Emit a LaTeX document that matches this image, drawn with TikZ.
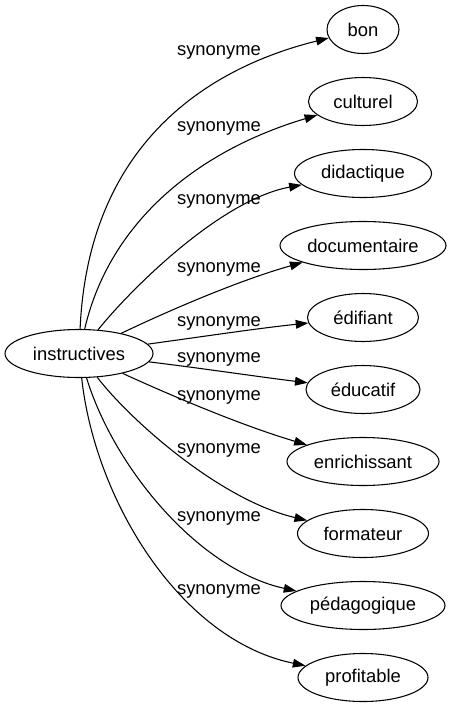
\documentclass[tikz,border=0pt]{standalone}
\usepackage{fontspec}
\setmainfont{Liberation Sans}
\usetikzlibrary{shapes.geometric,arrows.meta}
\tikzset{
  nd/.style={draw, ellipse, line width=0.8pt, minimum height=36pt, inner sep=0pt, font=\fontsize{13.8}{16}\selectfont},
  lbl/.style={inner sep=0pt, font=\fontsize{13.8}{16}\selectfont},
  edge/.style={line width=0.8pt, -{Triangle[length=9.5pt,width=6.5pt]}}
}
\begin{document}
\begin{tikzpicture}[x=0.75pt,y=-0.75pt]
\useasboundingbox (0,0) rectangle (453,707);
\node[nd, minimum width=111pt] (src) at (79,353.5) {instructives};
\node[nd, minimum width=54pt] (t1) at (363,29.5) {bon};
\node[nd, minimum width=81.75pt] (t2) at (363,101.5) {culturel};
\node[nd, minimum width=102.75pt] (t3) at (363,173.5) {didactique};
\node[nd, minimum width=124.5pt] (t4) at (363,245.5) {documentaire};
\node[nd, minimum width=83.25pt] (t5) at (363,317.5) {édifiant};
\node[nd, minimum width=85.5pt] (t6) at (363,389.5) {éducatif};
\node[nd, minimum width=114pt] (t7) at (363,461.5) {enrichissant};
\node[nd, minimum width=98.25pt] (t8) at (363,533.5) {formateur};
\node[nd, minimum width=123pt] (t9) at (363,605.5) {pédagogique};
\node[nd, minimum width=97.5pt] (t10) at (363,677.5) {profitable};

\draw[edge] (src) .. controls (88,150) and (200,70) .. (t1);
\draw[edge] (src) .. controls (110,220) and (200,150) .. (t2);
\draw[edge] (src) .. controls (130,290) and (220,200) .. (t3);
\draw[edge] (src) .. controls (170,310) and (240,280) .. (t4);
\draw[edge] (src) .. controls (200,337) and (260,328) .. (t5);
\draw[edge] (src) .. controls (200,368) and (260,377) .. (t6);
\draw[edge] (src) .. controls (170,395) and (240,425) .. (t7);
\draw[edge] (src) .. controls (130,420) and (220,500) .. (t8);
\draw[edge] (src) .. controls (115,470) and (200,570) .. (t9);
\draw[edge] (src) .. controls (95,500) and (180,640) .. (t10);

\node[lbl] (l1) at (219,52) {synonyme};
\node[lbl] (l2) at (219,128) {synonyme};
\node[lbl] (l3) at (219,201) {synonyme};
\node[lbl] (l4) at (219,269) {synonyme};
\node[lbl] (l5) at (219,323) {synonyme};
\node[lbl] (l6) at (219,359) {synonyme};
\node[lbl] (l7) at (219,397) {synonyme};
\node[lbl] (l8) at (219,450) {synonyme};
\node[lbl] (l9) at (219,518) {synonyme};
\node[lbl] (l10) at (219,591) {synonyme};
\end{tikzpicture}
\end{document}
